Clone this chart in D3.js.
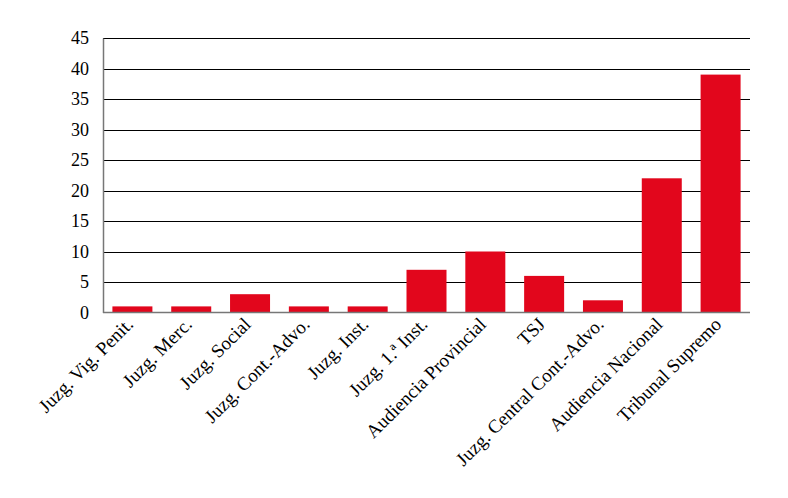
<!DOCTYPE html>
<html><head><meta charset="utf-8">
<script src="https://cdn.jsdelivr.net/npm/d3@7"></script>
<style>body{margin:0;background:#fff}svg{display:block}</style>
</head><body>
<svg id="c" width="788" height="498"></svg>
<script>
const categories = ["Juzg. Vig. Penit.","Juzg. Merc.","Juzg. Social","Juzg. Cont.-Advo.","Juzg. Inst.","Juzg. 1.ª Inst.","Audiencia Provincial","TSJ","Juzg. Central Cont.-Advo.","Audiencia Nacional","Tribunal Supremo"];
const values = [1,1,3,1,1,7,10,6,2,22,39];
const yTicks = [0,5,10,15,20,25,30,35,40,45];

const svg = d3.select("#c");
const m = {l:103, r:750, t:38, b:312.5};
const font = "'Liberation Serif', serif";
const x = d3.scaleBand().domain(categories).range([m.l, m.r]).paddingInner(0.32).paddingOuter(0.16);
const y = d3.scaleLinear().domain([0,45]).range([m.b, m.t]);

// gridlines
svg.append("g").selectAll("line").data(yTicks.filter(d=>d>0)).join("line")
  .attr("x1", m.l).attr("x2", m.r)
  .attr("y1", d=>Math.round(y(d))+0.5).attr("y2", d=>Math.round(y(d))+0.5)
  .attr("stroke", "#000").attr("stroke-width", 1);

// bars
svg.append("g").selectAll("rect").data(values).join("rect")
  .attr("x", (d,i)=>x(categories[i])).attr("width", x.bandwidth())
  .attr("y", d=>y(d)).attr("height", d=>y(0)-y(d))
  .attr("fill", "#e2061c");

// y axis
const ya = svg.append("g").attr("transform", `translate(${m.l},0)`)
  .call(d3.axisLeft(y).tickValues(yTicks).tickSize(0).tickPadding(14));
ya.select(".domain").attr("stroke", "#777").attr("stroke-width", 1.5);
ya.selectAll("text").attr("font-family", font).attr("font-size", 18).attr("fill", "#000");

// x axis
const xa = svg.append("g").attr("transform", `translate(0,${m.b})`)
  .call(d3.axisBottom(x).tickSize(0).tickPadding(0));
xa.select(".domain").attr("stroke", "#777").attr("stroke-width", 1.5).attr("d", `M${m.l},0H${m.r}`);
xa.selectAll("text").attr("font-family", font).attr("font-size", 19).attr("fill", "#000")
  .attr("text-anchor", "end").attr("dy", null)
  .attr("transform", "translate(2,13) rotate(-45)");
</script>
</body></html>
